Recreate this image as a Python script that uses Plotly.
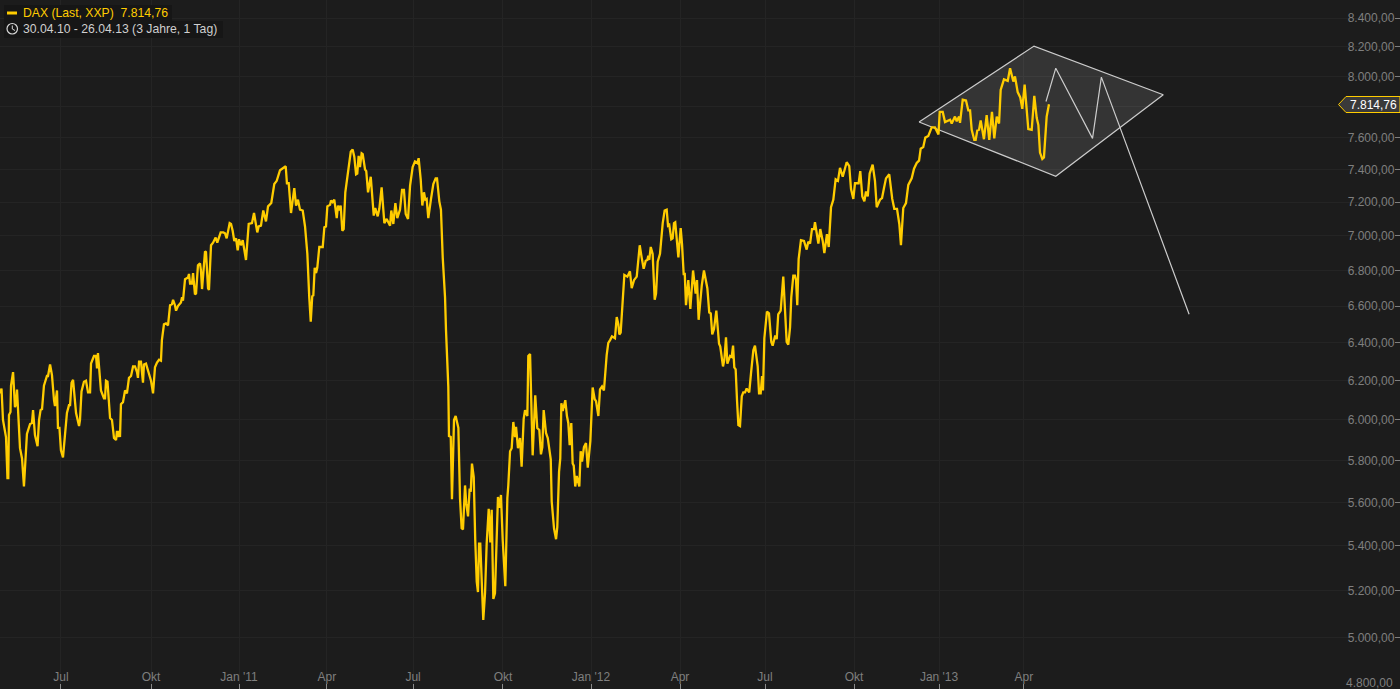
import plotly.graph_objects as go
import math

# DAX closing level per trading session (session 0 = 30.04.10)
sessions = [
0,1.1,2.2,4.4,5.5,6.1,6.6,7.7,8.1,9.6,11,11.8,12.5,14,14.7,16.2,17.6,19.8,22.1,23.5,24.3,25.7,27.6,28.7,29.8,30.9,32.3,34.5,35.3,36.8,38.2,39.7,40.4,41.9,42.6,43.7,44.8,46.3,47.8,49.2,50.7,51.5,52.6,53.7,55.9,58.1,58.8,59.9,61.7,63.2,64.7,66.2,66.9,69.1,70.6,71.3,72,73.5,74.2,76.4,77.2,77.9,79,80.9,82.3,83.8,85.3,86,86.7,87.5,88.2,88.9,90.4,91.9,93.3,94.8,96.3,97.8,99.2,100.7,101.4,102.2,103.6,105.1,105.8,107.3,108.8,111,112.5,113.9,115.4,116.9,118.3,
119,120.5,122,123.5,125,126.4,127.2,128.6,129.4,130.8,133,133.8,134.5,136,138.2,138.9,139.7,141.1,141.9,143.3,144.1,145.5,147,147.7,148.5,150.7,151.4,152.9,153.6,155.1,156.6,158.5,159.7,162.2,164.1,165.4,166.6,168.8,169.8,171,172.2,173.5,174.7,175.7,177.1,178.4,180.8,182.8,185.2,186.7,189.1,190.1,191.8,193.5,195.5,197,199.4,201.6,203.4,205.8,208.2,210,210.9,212.2,213.9,216.3,217.6,219,220.5,222.5,224.2,225.9,227.3,228.4,229.5,230.3,231.3,232.3,233.2,234.7,237.2,238.4,239.6,240.6,242.6,243.3,244.5,245.7,247.5,248.4,249.4,250.4,251.6,252.6,253.8,255.6,257.8,259.2,260.4,261.7,262.6,263.6,264.6,265.8,266.6,268.3,269.2,270.5,272.5,274.7,275.8,277.6,278.8,280.5,282.5,284.2,286.7,287.6,289.1,290.6,292,294,295.5,296.9,298.2,299.9,301.4,303.3,305,306.7,307.7,309.2,310.4,311.6,312.6,313.6,314.8,316.8,318.5,320.2,321.2,322.9,324.1,325.4,327.1,327.8,328.2,329.5,330,331.3,332.2,333.7,334.9,336.9,338.1,339.3,340.3,341.8,342.7,344,345.2,346,346.9,348.2,349.3,350.4,351.3,352.1,353,354.3,355.2,356.5,357.7,359.2,360.4,361.4,362.6,363.8,366,367.3,368.2,369.5,371.4,372.9,373.6,374.9,376.1,377.3,378.5,379.3,380.7,382.2,383.4,384.9,385.9,387.6,388.3,389.6,391.5,393.4,394.9,396.4,397.6,398.6,399.6,401.3,402.6,404.8,405.5,407.2,408.7,409.6,410.9,411.8,412.6,413.6,415.5,416.7,417.7,418.7,419.9,420.9,421.7,422.8,423.9,425.8,426.8,427.8,429.2,430.7,432,433.9,435.6,437.1,438.1,439.8,441,442.5,443.9,445.9,447.1,448.4,449.8,452,453.3,454.5,455.2,456.2,457.4,458.9,461.1,463,464.3,466,468,470.2,471.6,473.1,474.6,475.8,476.5,477.2,478.3,479.7,481.2,482.2,483.4,485.1,487.1,488.5,490,491,491.9,493.4,494.4,495.4,496.3,498.6,500.3,501.3,502.5,503.3,504.2,505.9,507.4,509.4,511.3,512.3,513.5,515.8,517.4,519.9,521.3,522.4,523.5,524.8,526.5,528.5,529.4,531.4,532.4,533.6,534.6,536.6,537.8,538.8,539.7,540.7,541.7,542.7,543.9,545.2,546.3,547.6,548.8,550.7,552,553.7,554.9,556.9,557.9,559.1,560.1,560.8,561.8,563.7,565.2,566.9,567.9,569.8,570.9,572,573.8,575.7,578.2,579.4,580.7,581.6,583.1,584.3,585.1,586,587,588.7,590.9,592.9,594.1,595.4,596.8,598.3,599,601.5,602.9,604.7,605.9,607.8,609.1,609.8,610.8,612.5,614.2,615.9,617.4,619.4,622.3,624.2,625.5,627.2,628.4,631.1,632.3,633.8,635.3,636.5,637.8,639.2,641.4,643.1,644.4,646.8,648.3,649.7,651.2,653.6,654.7,655.8,657.3,659.3,661,662.2,663.9,665.9,667.6,670.1,671.8,673.8,675.5,676.7,678.6,680.1,682.3,684.8,687.2,689.8,690.7,692.9,694.6,698.3,699.5,701.9,703.2,704.9,705.6,707.6,710,711.7,713,714.2,716.1,717.1,718.3,719.6,720.8,723.2,725.2,727.1,729.1,730.8,732.6,734.3,735.5,737.9,740.7,742.4,744.8,746,748,749.9,751.4,753.1,755.8,758.3,760.2,762,763.2,764.4,766.1,767.3,769.3,770.5,771]

closes = [
6135,6160,6000,5915,5715,5715,6025,6040,6175,6245,6065,6080,6155,5900,5860,5810,5675,5930,5980,5985,6050,5925,5870,6000,6050,6055,6175,6225,6225,6285,6230,6100,6070,6150,5960,5960,5850,5815,5950,6035,6075,6075,6190,6205,6035,5970,6000,6145,6195,6200,6140,6140,6290,6330,6330,6265,6345,6230,6150,6110,6110,6200,6195,6010,6000,5910,5900,5945,5915,5945,5915,6080,6090,6150,6135,6215,6225,6275,6275,6245,6215,6300,6300,6190,6285,6290,6255,6200,6135,6270,6295,6310,6305,
6415,6500,6505,6495,6605,6610,6635,6605,6575,6600,6620,6650,6630,6750,6760,6780,6725,6725,6785,6665,6670,6830,6840,6800,6695,6910,6905,6700,6690,6945,6960,6990,6960,7020,7020,7015,6985,7075,7070,7030,6970,6985,6915,6980,6945,6975,6860,7070,7075,7135,7020,7055,7060,7150,7085,7175,7195,7310,7330,7395,7410,7420,7315,7315,7135,7285,7180,7215,7155,7150,7055,6895,6650,6515,6655,6660,6815,6785,6815,6935,6935,7050,7055,7175,7185,7210,7200,7215,7105,7180,7150,7180,7030,7040,7260,7385,7510,7525,7480,7370,7375,7485,7415,7500,7495,7400,7390,7260,7355,7120,7165,7115,7160,7290,7075,7100,7060,7150,7070,7195,7105,7155,7275,7275,7130,7100,7300,7415,7450,7440,7470,7340,7180,7260,7215,7220,7105,7220,7310,7345,7345,7205,7155,6875,6650,6470,6415,6170,5920,5915,5615,6000,6020,5960,5620,5480,5475,5680,5595,5535,5665,5650,5785,5720,5425,5240,5195,5410,5410,5175,5075,5190,5410,5570,5415,5565,5165,5190,5625,5575,5635,5425,5220,5620,5680,5845,5860,5990,5915,5965,5860,5910,5770,6005,6050,6020,6330,6340,5825,6125,5960,5950,5830,5865,6050,5935,5910,5805,5605,5480,5430,5485,5745,5810,6085,6045,6100,6020,5985,5875,5985,5785,5775,5675,5725,5675,5845,5795,5865,5885,5765,5895,6165,6105,6095,6020,6155,6170,6150,6335,6400,6415,6435,6425,6540,6500,6445,6455,6630,6775,6765,6795,6700,6745,6765,6945,6875,6810,6855,6860,6885,6860,6935,6895,6635,6670,6850,6895,7075,7150,7155,7060,7065,6980,6985,7075,7080,6875,7045,6950,6780,6780,6605,6745,6585,6800,6670,6745,6525,6715,6800,6700,6565,6560,6445,6475,6575,6395,6380,6275,6310,6430,6290,6330,6325,6385,6270,6260,6100,5975,5970,6120,6140,6140,6160,6140,6240,6360,6385,6275,6135,6135,6225,6150,6425,6570,6560,6405,6385,6440,6420,6555,6575,6765,6405,6390,6485,6650,6770,6770,6745,6605,6865,6975,6970,6920,6965,6955,7040,7040,7080,6955,7040,6970,6900,7010,6935,7030,7170,7215,7340,7330,7410,7355,7445,7420,7280,7220,7315,7315,7390,7235,7205,7265,7235,7375,7430,7330,7170,7215,7225,7285,7345,7370,7270,7220,7160,7160,7070,6945,7165,7195,7305,7345,7405,7440,7455,7530,7540,7600,7610,7665,7665,7620,7765,7765,7700,7715,7690,7735,7705,7735,7695,7845,7840,7775,7775,7650,7585,7585,7645,7650,7710,7590,7745,7585,7765,7595,7735,7690,7910,7980,7970,8055,7965,8000,7895,7860,7785,7945,7655,7650,7870,7725,7680,7505,7465,7475,7735,7815,7814.76]

# Hand-drawn rhombus and zigzag annotation (session, level)
rhombus_sessions = [675.5, 760, 855, 776, 675.5]
rhombus_levels = [7700, 8205, 7878, 7358, 7700]
zigzag_sessions = [768.8, 776, 803, 809.5, 874]
zigzag_levels = [7833, 8055, 7595, 7995, 6555]

month_ticks = [44.8, 111, 175.7, 240.3, 303.6, 369.7, 434.4, 499.8, 562.3, 627.7, 690.2, 752.6]
month_labels = ["Jul", "Okt", "Jan '11", "Apr", "Jul", "Okt", "Jan '12", "Apr", "Jul", "Okt", "Jan '13", "Apr"]
level_ticks = [4800, 5000, 5200, 5400, 5600, 5800, 6000, 6200, 6400, 6600, 6800, 7000, 7200, 7400, 7600, 7800, 8000, 8200, 8400]
level_labels = ["", "5.000,00", "5.200,00", "5.400,00", "5.600,00", "5.800,00", "6.000,00", "6.200,00", "6.400,00",
                "6.600,00", "6.800,00", "7.000,00", "7.200,00", "7.400,00", "7.600,00", "", "8.000,00", "8.200,00", "8.400,00"]

BG = "#1c1c1c"
GRID = "#242424"
YEL = "#ffcc00"
W, H = 1400, 689
FONT = "Liberation Sans"
FS = 12

def px(x): return x / W
def py(y): return 1 - y / H

fig = go.Figure()
fig.add_trace(go.Scatter(x=rhombus_sessions, y=rhombus_levels, mode="lines", fill="toself",
                         fillcolor="rgba(255,255,255,0.11)", line=dict(color="#cccccc", width=1.2),
                         hoverinfo="skip", showlegend=False))
fig.add_trace(go.Scatter(x=zigzag_sessions, y=zigzag_levels, mode="lines",
                         line=dict(color="#cccccc", width=1.2), hoverinfo="skip", showlegend=False))
fig.add_trace(go.Scatter(x=sessions, y=closes, mode="lines", line=dict(color=YEL, width=2.3),
                         name="DAX", showlegend=False))

shapes = [
    dict(type="rect", xref="paper", yref="paper", x0=px(4), x1=px(172), y0=py(5), y1=py(21), fillcolor="#161616", line_width=0),
    dict(type="rect", xref="paper", yref="paper", x0=px(4), x1=px(223), y0=py(21), y1=py(38), fillcolor="#161616", line_width=0),
    dict(type="rect", xref="paper", yref="paper", x0=px(7), x1=px(17), y0=py(11.5), y1=py(14.5), fillcolor=YEL, line_width=0),
    dict(type="circle", xref="paper", yref="paper", x0=px(7), x1=px(17.5), y0=py(23.5), y1=py(34), line=dict(color="#d8d8d8", width=1.2)),
    dict(type="path", xref="paper", yref="paper",
         path=f"M {px(12.3)} {py(25.5)} L {px(12.3)} {py(29)} L {px(15)} {py(30.5)}", line=dict(color="#d8d8d8", width=1)),
    dict(type="path", xref="paper", yref="paper",
         path=f"M {px(1338.5)} {py(104.5)} L {px(1346)} {py(96.5)} L {px(1400)} {py(96.5)} L {px(1400)} {py(112.5)} L {px(1346)} {py(112.5)} Z",
         fillcolor="#3a3a3a", line=dict(color=YEL, width=1)),
]
annotations = [
    dict(xref="paper", yref="paper", x=px(21), y=py(13), xanchor="left", yanchor="middle", showarrow=False,
         text="DAX (Last, XXP)\u00a0\u00a07.814,76", font=dict(family=FONT, size=12.2, color=YEL)),
    dict(xref="paper", yref="paper", x=px(21), y=py(29), xanchor="left", yanchor="middle", showarrow=False,
         text="30.04.10 - 26.04.13 (3 Jahre, 1 Tag)", font=dict(family=FONT, size=12.2, color="#cfcfcf")),
    dict(xref="paper", yref="paper", x=px(1373), y=py(104.5), xanchor="center", yanchor="middle", showarrow=False,
         text="7.814,76", font=dict(family=FONT, size=FS, color="#ffffff")),
    dict(xref="paper", yref="paper", x=px(1395), y=py(683), xanchor="right", yanchor="middle", showarrow=False,
         text="4.800,00", font=dict(family=FONT, size=FS, color="#7f7f7f")),
]

fig.update_layout(
    width=W, height=H, autosize=False,
    margin=dict(l=0, r=0, t=0, b=0),
    paper_bgcolor=BG, plot_bgcolor=BG,
    showlegend=False, shapes=shapes, annotations=annotations,
    font=dict(family=FONT, size=FS, color="#7f7f7f"),
    xaxis=dict(range=[0, W * 0.735], tickmode="array", tickvals=month_ticks, ticktext=month_labels,
               showgrid=True, gridcolor=GRID, gridwidth=1, zeroline=False, showline=False,
               ticks="inside", ticklen=5, tickcolor="#8a8a8a", tickwidth=1, ticklabelposition="inside",
               tickfont=dict(family=FONT, size=FS, color="#7f7f7f")),
    yaxis=dict(type="log", range=[math.log10(4790), math.log10(8528)], side="right", tickmode="array",
               tickvals=level_ticks, ticktext=level_labels,
               showgrid=True, gridcolor=GRID, gridwidth=1, zeroline=False, showline=False,
               ticks="inside", ticklen=5, tickcolor="#7f7f7f", tickwidth=1, ticklabelposition="inside",
               tickfont=dict(family=FONT, size=FS, color="#7f7f7f")),
)
fig.write_html("out.html", config={"displayModeBar": False, "responsive": False},
               post_script="document.body.style.margin='0';document.body.style.background='#1c1c1c';document.body.style.overflow='hidden';")
